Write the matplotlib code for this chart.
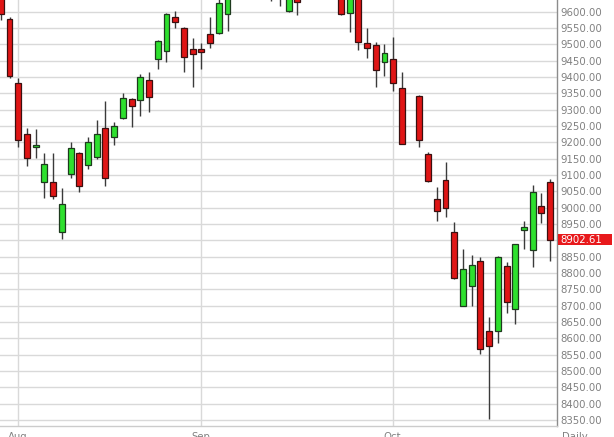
import numpy as np
import matplotlib
matplotlib.use("Agg")
import matplotlib.pyplot as plt
from matplotlib.patches import Rectangle
from matplotlib.transforms import blended_transform_factory

# ---- data (daily candles, index 0..63; index 47 missing) ----
opens = [9700, 9578, 9381, 9225, 9185, 9080, 9080, 8925, 9103, 9167,
         9131, 9156, 9243, 9217, 9274, 9332, 9330, 9391, 9454, 9481,
         9585, 9549, 9485, 9485, 9531, 9536, 9592, 9685, 9720, 9760,
         9715, 9745, 9660, 9602, 9685, 9650, 9705, 9735, 9700, 9668,
         9597, 9660, 9503, 9498, 9445, 9454, 9366, None, 9342, 9164,
         9027, 9085, 8925, 8700, 8760, 8837, 8623, 8623, 8822, 8689,
         8932, 8871, 9006, 9080]
highs = [9720, 9585, 9396, 9245, 9240, 9168, 9168, 9061, 9202, 9171,
         9217, 9268, 9327, 9261, 9352, 9335, 9409, 9416, 9513, 9597,
         9602, 9552, 9518, 9503, 9583, 9645, 9690, 9740, 9780, 9800,
         9760, 9770, 9700, 9690, 9700, 9720, 9750, 9760, 9720, 9680,
         9660, 9670, 9549, 9508, 9500, 9523, 9414, None, 9345, 9171,
         9064, 9141, 8957, 8873, 8855, 8848, 8664, 8852, 8835, 8889,
         8960, 9069, 9044, 9087]
lows = [9575, 9398, 9187, 9129, 9151, 9029, 9026, 8903, 9090, 9049,
        9118, 9148, 9066, 9192, 9272, 9246, 9281, 9294, 9424, 9447,
        9549, 9416, 9370, 9424, 9488, 9531, 9541, 9660, 9690, 9700,
        9670, 9633, 9617, 9600, 9590, 9645, 9680, 9690, 9655, 9590,
        9537, 9483, 9457, 9370, 9403, 9358, 9194, None, 9187, 9080,
        8959, 8972, 8782, 8698, 8700, 8551, 8352, 8585, 8679, 8644,
        8873, 8819, 8952, 8837]
closes = [9593, 9403, 9207, 9151, 9191, 9133, 9037, 9011, 9182, 9067,
          9200, 9225, 9090, 9250, 9335, 9311, 9401, 9338, 9511, 9593,
          9568, 9460, 9470, 9478, 9503, 9627, 9680, 9720, 9760, 9715,
          9745, 9660, 9650, 9680, 9631, 9705, 9735, 9700, 9670, 9593,
          9650, 9508, 9488, 9421, 9474, 9381, 9194, None, 9207, 9083,
          8990, 9000, 8784, 8811, 8824, 8567, 8577, 8850, 8712, 8888,
          8940, 9047, 8985, 8902.61]
month_labels = ["Aug", "Sep", "Oct"]
month_start_idx = [2, 23, 45]
ytick_values = list(range(8350, 9601, 50))
last_price = 8902.61

o = np.array([np.nan if v is None else v for v in opens], float)
h = np.array([np.nan if v is None else v for v in highs], float)
l = np.array([np.nan if v is None else v for v in lows], float)
c = np.array([np.nan if v is None else v for v in closes], float)
x = np.arange(len(o))
valid = ~np.isnan(o)

W, H = 614, 437
fig = plt.figure(figsize=(W / 100, H / 100), dpi=100)
ax_l, ax_r, ax_b, ax_t = 0, 556.7, 11, 437
ax = fig.add_axes([ax_l / W, ax_b / H, (ax_r - ax_l) / W, (ax_t - ax_b) / H])

ymin, ymax = 8331.8, 9635.8
ax.set_ylim(ymin, ymax)
ax.set_xlim(-0.092, 63.75)

# grid / ticks (the tick label nearest the last price is covered by the tag)
ax.set_axisbelow(True)
ax.set_yticks(ytick_values)
ax.set_yticklabels(["" if abs(v - last_price) < 25 else f"{v:.2f}" for v in ytick_values])
ax.set_xticks([i - 0.08 for i in month_start_idx])
ax.set_xticklabels(month_labels)
ax.grid(True, color="#d9d9d9", lw=1.0)
ax.yaxis.tick_right()
ax.tick_params(axis="y", length=0, pad=2.4, labelsize=7.3, labelcolor="#808080")
ax.tick_params(axis="x", length=0, pad=4.2, labelsize=7.3, labelcolor="#808080")

for s in ["left", "top"]:
    ax.spines[s].set_visible(False)
ax.spines["right"].set_color("#8c8c8c")
ax.spines["right"].set_linewidth(1.0)
ax.spines["bottom"].set_color("#cccccc")
ax.spines["bottom"].set_linewidth(1.0)

# candles
up = valid & (c >= o)
dn = valid & (c < o)
ax.vlines(x[valid], l[valid], h[valid], color="#3a3a3a", lw=1.0, zorder=2)
bw = 0.68
lo = np.minimum(o, c)
ht = np.maximum(np.abs(c - o), 4)
ax.bar(x[up], ht[up], bottom=lo[up], width=bw, color="#2ee02e",
       edgecolor="#1e3a1e", linewidth=0.9, zorder=3)
ax.bar(x[dn], ht[dn], bottom=lo[dn], width=bw, color="#e01515",
       edgecolor="#3a1010", linewidth=0.9, zorder=3)

# last price tag
tr = blended_transform_factory(fig.transFigure, ax.transData)
dpp = (ymax - ymin) / (ax_t - ax_b)
box_h = 11.5 * dpp
ax.add_patch(Rectangle((557.7 / W, last_price - box_h / 2), 54 / W, box_h,
                       transform=tr, facecolor="#e8191c", edgecolor="none",
                       clip_on=False, zorder=5))
ax.text(560 / W, last_price, f"{last_price:.2f}", transform=tr, va="center",
        ha="left", color="white", fontsize=7.3, zorder=6, clip_on=False)

fig.text(562 / W, 1 - 432 / H, "Daily", va="top", ha="left",
         color="#808080", fontsize=7.3)

fig.savefig("out.png", dpi=100, facecolor="white")
